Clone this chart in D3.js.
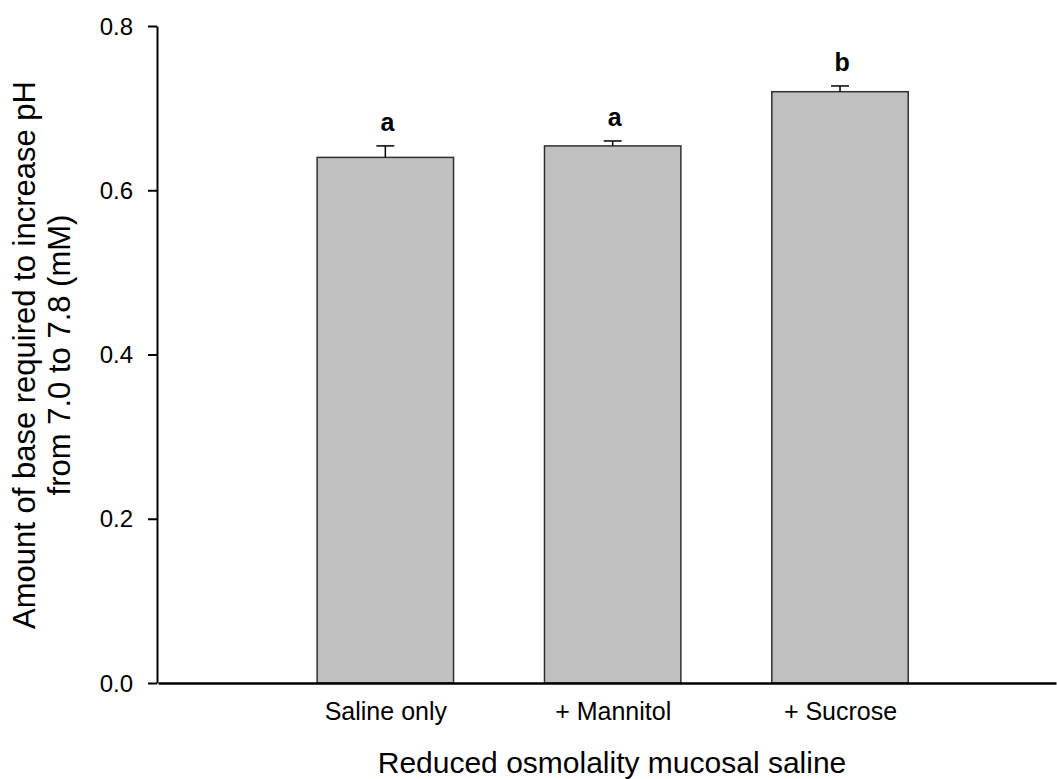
<!DOCTYPE html>
<html>
<head>
<meta charset="utf-8">
<script src="https://cdn.jsdelivr.net/npm/d3@7"></script>
<style>
  body { margin: 0; background: #fff; }
  text { font-family: Arial, "Liberation Sans", sans-serif; fill: #000; }
</style>
</head>
<body>
<div id="wrapper"></div>
<script>
const categories = ["Saline only", "+ Mannitol", "+ Sucrose"];
const means = [0.640, 0.654, 0.720];
const errors = [0.014, 0.006, 0.007];
const letters = ["a", "a", "b"];
const yTicks = [0, 0.2, 0.4, 0.6, 0.8];

function drawChart() {
  const width = 1057, height = 779;

  const svg = d3.select("#wrapper").append("svg")
    .attr("width", width)
    .attr("height", height);

  // categories sit at 1, 2, 3 on a linear axis
  const xScale = d3.scaleLinear()
    .domain([0, 3.95])
    .range([158, 1056]);

  const yScale = d3.scaleLinear()
    .domain([0, 0.8])
    .range([683, 26]);

  const barW = 0.6;

  const data = categories.map((c, i) => ({
    cat: c, pos: i + 1, mean: means[i], err: errors[i], letter: letters[i]
  }));

  // bars
  svg.append("g")
    .selectAll("rect")
    .data(data)
    .join("rect")
    .attr("x", d => xScale(d.pos - barW / 2))
    .attr("width", d => xScale(d.pos + barW / 2) - xScale(d.pos - barW / 2))
    .attr("y", d => yScale(d.mean))
    .attr("height", d => yScale(0) - yScale(d.mean))
    .attr("fill", "#c0c0c0")
    .attr("stroke", "#303030")
    .attr("stroke-width", 1.5);

  // upper error bars
  const eb = svg.append("g")
    .attr("stroke", "#000")
    .attr("stroke-width", 1.5);

  eb.selectAll(".stem")
    .data(data)
    .join("line")
    .attr("class", "stem")
    .attr("x1", d => xScale(d.pos))
    .attr("x2", d => xScale(d.pos))
    .attr("y1", d => yScale(d.mean))
    .attr("y2", d => yScale(d.mean + d.err));

  eb.selectAll(".cap")
    .data(data)
    .join("line")
    .attr("class", "cap")
    .attr("x1", d => xScale(d.pos) - 9)
    .attr("x2", d => xScale(d.pos) + 9)
    .attr("y1", d => yScale(d.mean + d.err))
    .attr("y2", d => yScale(d.mean + d.err));

  // significance letters
  svg.append("g")
    .selectAll("text")
    .data(data)
    .join("text")
    .attr("x", d => xScale(d.pos) + 2)
    .attr("y", d => yScale(d.mean + d.err) - 15)
    .attr("text-anchor", "middle")
    .style("font-size", "25px")
    .style("font-weight", "bold")
    .text(d => d.letter);

  // y axis
  const yAxis = d3.axisLeft(yScale)
    .tickValues(yTicks)
    .tickFormat(d3.format(".1f"))
    .tickSize(9)
    .tickSizeOuter(0)
    .tickPadding(15);

  const gy = svg.append("g")
    .attr("transform", `translate(${xScale(0) - 1}, 0)`)
    .call(yAxis);
  gy.select(".domain").attr("stroke-width", 2);
  gy.selectAll(".tick line").attr("stroke-width", 2);
  gy.selectAll(".tick text").style("font-size", "24px").attr("dy", "0.34em");

  // x axis (no ticks)
  const xAxis = d3.axisBottom(xScale)
    .tickValues([1, 2, 3])
    .tickFormat(d => categories[d - 1])
    .tickSize(0)
    .tickSizeOuter(0)
    .tickPadding(19);

  const gx = svg.append("g")
    .attr("transform", `translate(0, ${yScale(0)})`)
    .call(xAxis);
  gx.select(".domain").attr("stroke-width", 2.5);
  gx.selectAll(".tick text").style("font-size", "25px");

  // axis titles
  svg.append("text")
    .attr("x", 612)
    .attr("y", 773)
    .attr("text-anchor", "middle")
    .style("font-size", "30px")
    .text("Reduced osmolality mucosal saline");

  const yt = svg.append("text")
    .attr("transform", "translate(0, 355) rotate(-90)")
    .attr("text-anchor", "middle")
    .style("font-size", "31px");
  yt.append("tspan").attr("x", 0).attr("y", 35)
    .text("Amount of base required to increase pH");
  yt.append("tspan").attr("x", 0).attr("y", 70)
    .text("from 7.0 to 7.8 (mM)");
}
drawChart();
</script>
</body>
</html>
